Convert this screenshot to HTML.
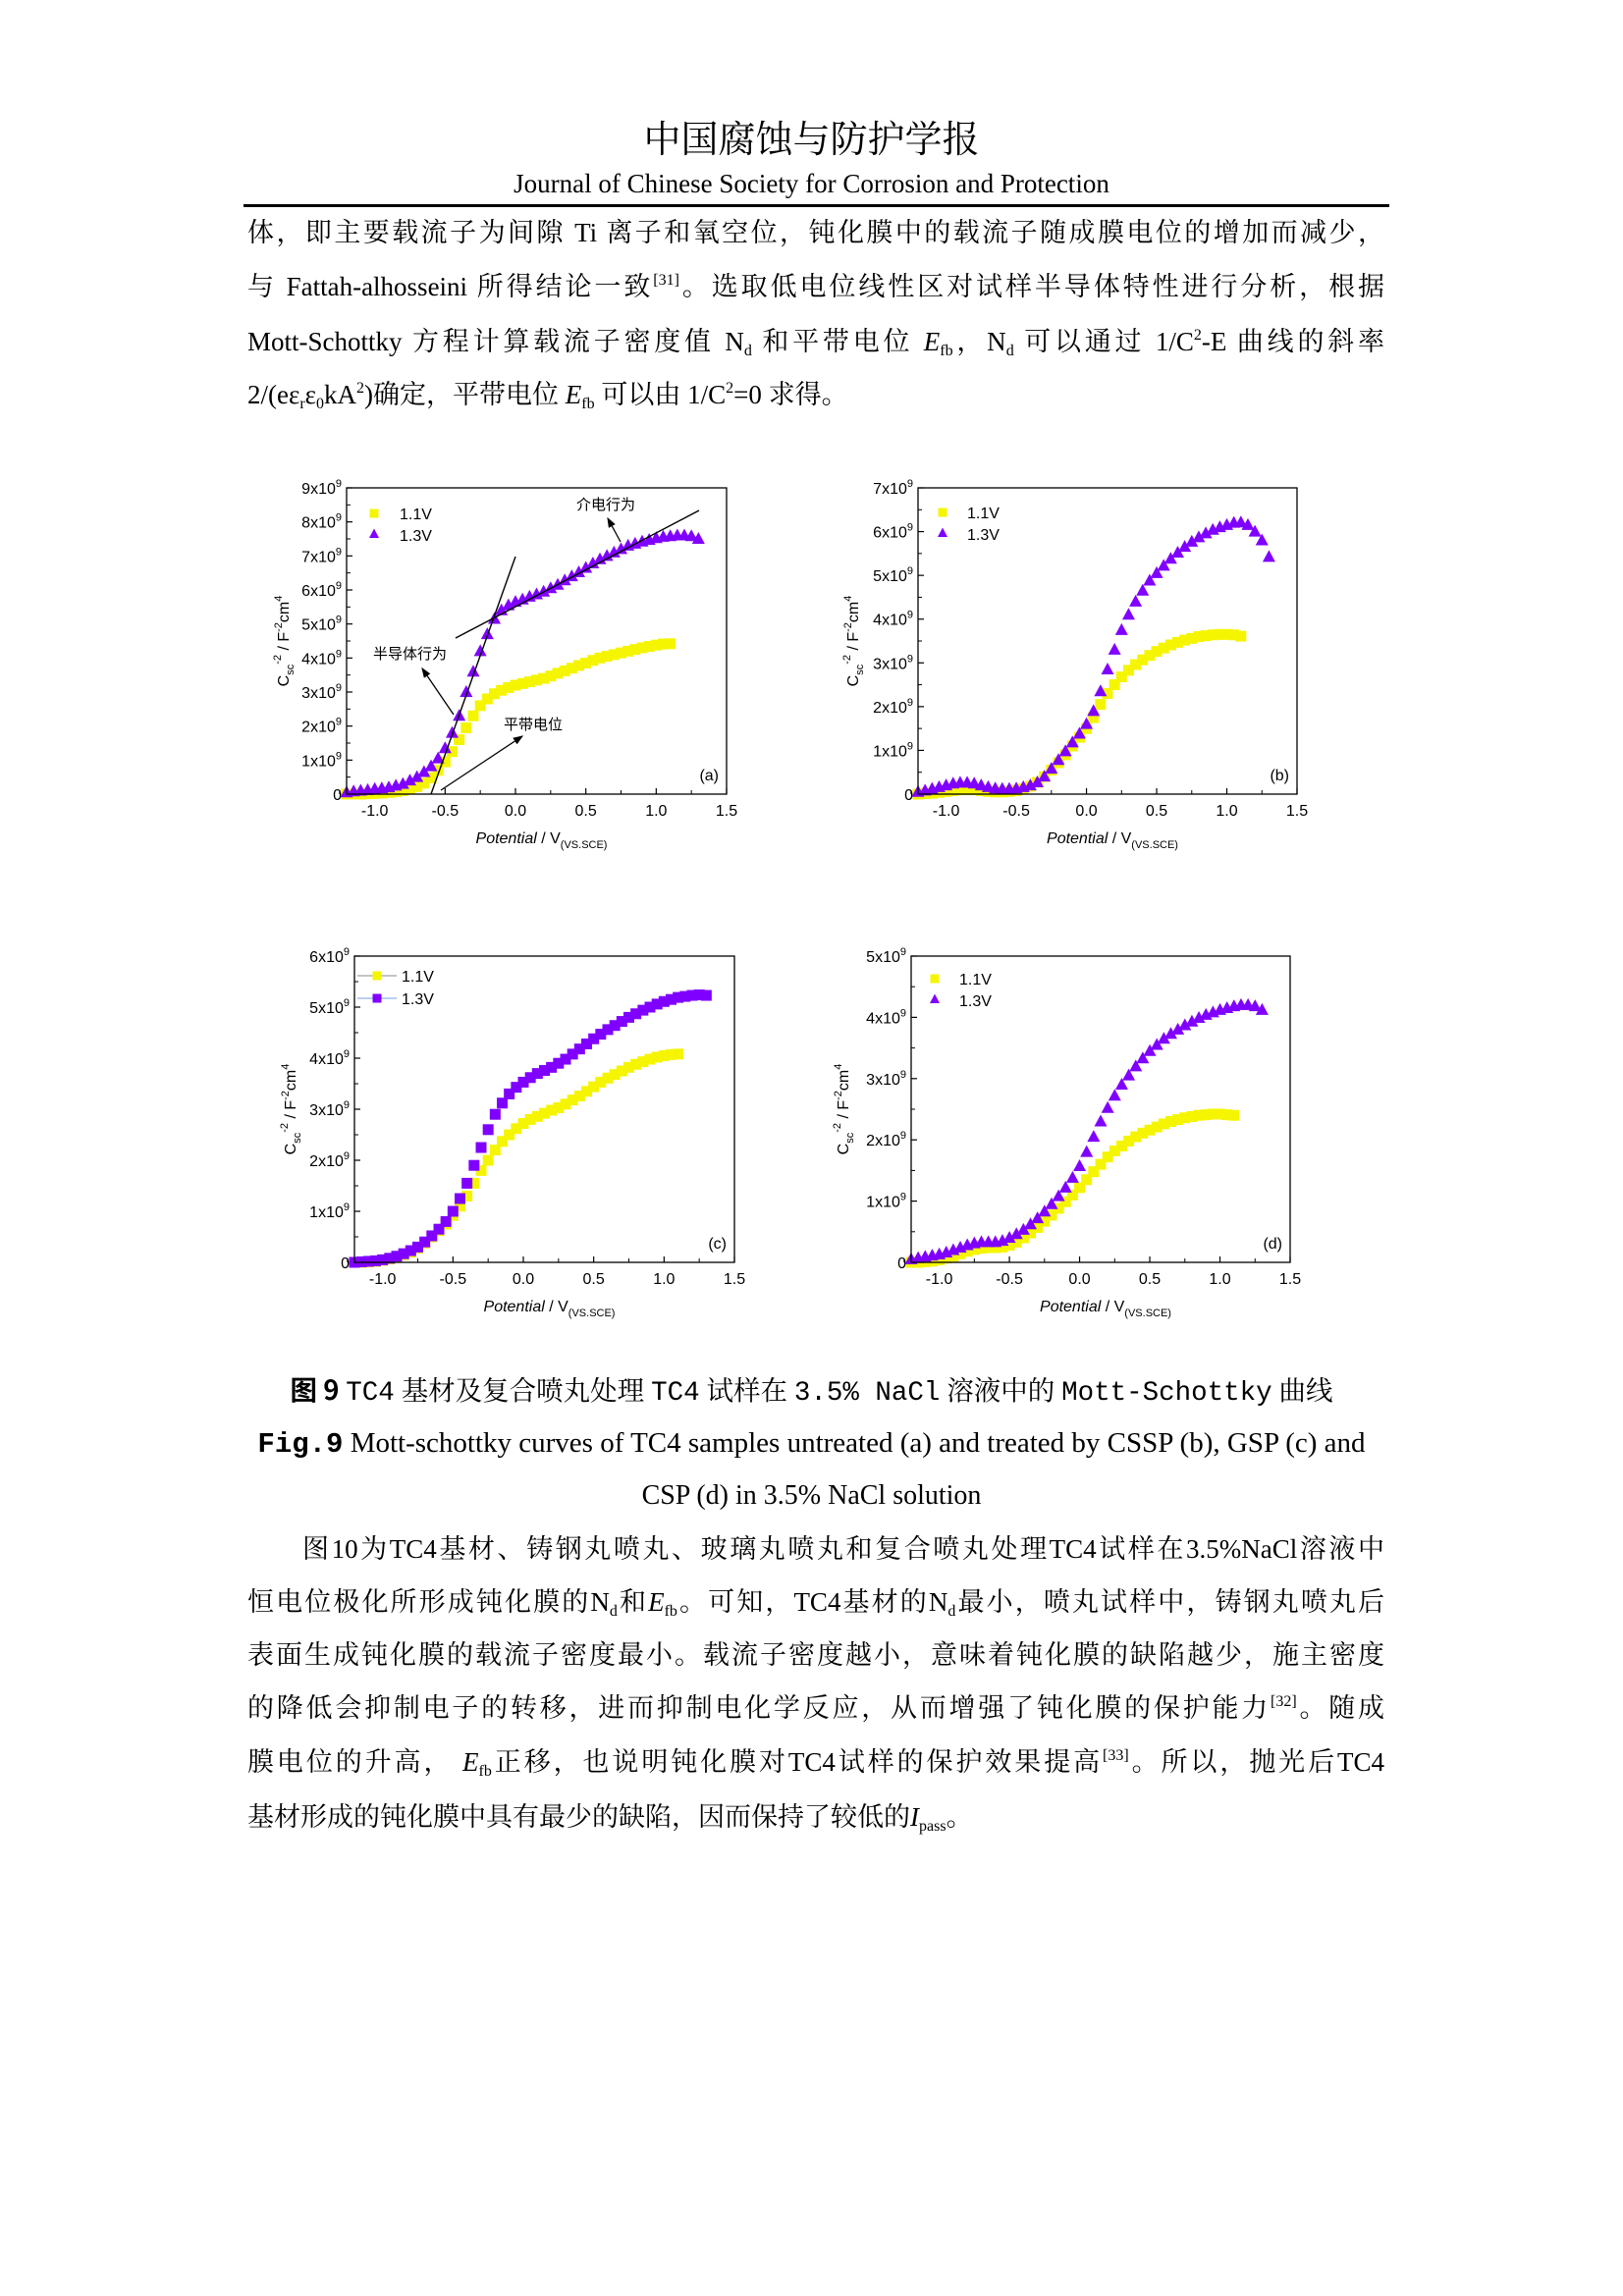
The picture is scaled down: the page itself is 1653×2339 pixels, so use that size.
<!DOCTYPE html>
<html><head><meta charset="utf-8">
<style>
html,body{margin:0;padding:0;background:#fff;}
body{width:1653px;height:2339px;position:relative;overflow:hidden;font-family:"Liberation Serif","Noto Serif CJK SC",serif;color:#000;}
.ln{position:absolute;left:252px;width:1158px;font-size:27px;line-height:36px;white-space:nowrap;text-align:justify;text-align-last:justify;}
.ln.l{text-align-last:left;}
.c{position:absolute;left:0;width:1653px;text-align:center;white-space:nowrap;}
sup{font-size:16px;vertical-align:11px;line-height:0;}
sub{font-size:16px;vertical-align:-5px;line-height:0;}
.mono{font-family:"Liberation Mono","Noto Serif CJK SC",monospace;}
svg text{font-family:"Liberation Sans","Noto Sans CJK SC",sans-serif;}
</style></head>
<body>
<div class="c" style="top:118px;font-size:38px;line-height:50px;">中国腐蚀与防护学报</div>
<div class="c" style="top:170px;font-size:27px;line-height:34px;">Journal of Chinese Society for Corrosion and Protection</div>
<div style="position:absolute;left:248px;top:208px;width:1167px;height:3px;background:#000;"></div>

<div class="ln" style="top:219px;">体，即主要载流子为间隙 Ti 离子和氧空位，钝化膜中的载流子随成膜电位的增加而减少，</div>
<div class="ln" style="top:274px;">与 Fattah-alhosseini 所得结论一致<sup>[31]</sup>。选取低电位线性区对试样半导体特性进行分析，根据</div>
<div class="ln" style="top:330px;">Mott-Schottky 方程计算载流子密度值 N<sub>d</sub> 和平带电位 <i>E</i><sub>fb</sub>，N<sub>d</sub> 可以通过 1/C<sup>2</sup>-E 曲线的斜率</div>
<div class="ln l" style="top:384px;">2/(eε<sub>r</sub>ε<sub>0</sub>kA<sup>2</sup>)确定，平带电位 <i>E</i><sub>fb</sub> 可以由 1/C<sup>2</sup>=0 求得。</div>

<svg id="charts" style="position:absolute;left:0;top:0;" width="1653" height="1400"></svg>

<div class="c" style="top:1396px;font-size:27.5px;line-height:36px;"><b style="font-family:'Noto Sans CJK SC',sans-serif;">图 9</b> <span class="mono">TC4</span> 基材及复合喷丸处理 <span class="mono">TC4</span> 试样在 <span class="mono">3.5% NaCl</span> 溶液中的 <span class="mono">Mott-Schottky</span> 曲线</div>
<div class="c" style="top:1452px;font-size:29px;line-height:36px;"><b class="mono">Fig.9</b> Mott-schottky curves of TC4 samples untreated (a) and treated by CSSP (b), GSP (c) and</div>
<div class="c" style="top:1506px;font-size:28px;line-height:36px;">CSP (d) in 3.5% NaCl solution</div>

<div class="ln" style="top:1560px;padding-left:56px;width:1102px;">图10为TC4基材、铸钢丸喷丸、玻璃丸喷丸和复合喷丸处理TC4试样在3.5%NaCl溶液中</div>
<div class="ln" style="top:1614px;">恒电位极化所形成钝化膜的N<sub>d</sub>和<i>E</i><sub>fb</sub>。可知，TC4基材的N<sub>d</sub>最小，喷丸试样中，铸钢丸喷丸后</div>
<div class="ln" style="top:1668px;">表面生成钝化膜的载流子密度最小。载流子密度越小，意味着钝化膜的缺陷越少，施主密度</div>
<div class="ln" style="top:1722px;">的降低会抑制电子的转移，进而抑制电化学反应，从而增强了钝化膜的保护能力<sup>[32]</sup>。随成</div>
<div class="ln" style="top:1777px;">膜电位的升高， <i>E</i><sub>fb</sub>正移，也说明钝化膜对TC4试样的保护效果提高<sup>[33]</sup>。所以，抛光后TC4</div>
<div class="ln l" style="top:1833px;">基材形成的钝化膜中具有最少的缺陷，因而保持了较低的<i>I</i><sub>pass</sub>。</div>

<script>
const potentials = [-1.2,-1.15,-1.1,-1.05,-1.0,-0.95,-0.9,-0.85,-0.8,-0.75,-0.7,-0.65,-0.6,-0.55,-0.5,-0.45,-0.4,-0.35,-0.3,-0.25,-0.2,-0.15,-0.1,-0.05,0,0.05,0.1,0.15,0.2,0.25,0.3,0.35,0.4,0.45,0.5,0.55,0.6,0.65,0.7,0.75,0.8,0.85,0.9,0.95,1.0,1.05,1.1,1.15,1.2,1.25,1.3];
const xTicks = [-1.0,-0.5,0.0,0.5,1.0,1.5];
const xTickLabels = ["-1.0","-0.5","0.0","0.5","1.0","1.5"];
const seriesNames = ["1.1V","1.3V"];
// values in 1e9 F^-2 cm^4
const aYellow = [0,0,0,0.01,0.02,0.03,0.05,0.07,0.1,0.15,0.22,0.32,0.48,0.7,0.95,1.25,1.6,1.95,2.3,2.6,2.8,2.95,3.05,3.13,3.2,3.25,3.3,3.35,3.4,3.47,3.55,3.62,3.7,3.78,3.85,3.93,4.0,4.05,4.1,4.15,4.2,4.25,4.3,4.34,4.38,4.41,4.42];
const aPurple = [0.05,0.08,0.1,0.12,0.15,0.17,0.2,0.25,0.3,0.4,0.5,0.65,0.82,1.05,1.35,1.8,2.3,3.0,3.6,4.2,4.7,5.15,5.4,5.55,5.65,5.72,5.8,5.87,5.95,6.05,6.15,6.28,6.4,6.52,6.65,6.78,6.9,7.0,7.1,7.2,7.3,7.36,7.42,7.47,7.52,7.56,7.58,7.6,7.6,7.58,7.5];
const bYellow = [0,0.01,0.02,0.04,0.06,0.08,0.1,0.1,0.1,0.08,0.06,0.05,0.05,0.06,0.08,0.12,0.18,0.27,0.4,0.55,0.72,0.9,1.1,1.3,1.5,1.75,2.05,2.3,2.5,2.68,2.83,2.96,3.07,3.17,3.26,3.34,3.41,3.47,3.52,3.56,3.6,3.62,3.64,3.65,3.65,3.64,3.61];
const bPurple = [0.05,0.08,0.12,0.16,0.2,0.24,0.26,0.26,0.24,0.2,0.16,0.13,0.12,0.12,0.13,0.16,0.2,0.27,0.4,0.58,0.78,0.98,1.18,1.38,1.6,1.9,2.35,2.85,3.3,3.75,4.1,4.4,4.65,4.88,5.05,5.22,5.38,5.52,5.65,5.77,5.87,5.96,6.04,6.1,6.15,6.2,6.21,6.15,6.0,5.8,5.42];
const cYellow = [0,0,0.01,0.02,0.04,0.07,0.1,0.15,0.2,0.28,0.38,0.5,0.62,0.75,0.92,1.1,1.3,1.55,1.8,2.0,2.2,2.37,2.5,2.62,2.72,2.8,2.86,2.92,2.98,3.03,3.1,3.18,3.26,3.35,3.44,3.53,3.61,3.68,3.75,3.82,3.88,3.93,3.98,4.02,4.05,4.07,4.08];
const cPurple = [0,0.01,0.02,0.03,0.05,0.08,0.12,0.17,0.23,0.3,0.4,0.52,0.65,0.8,1.0,1.25,1.55,1.9,2.25,2.6,2.9,3.12,3.3,3.43,3.53,3.62,3.7,3.76,3.82,3.9,3.98,4.08,4.18,4.28,4.38,4.47,4.56,4.64,4.72,4.8,4.87,4.94,5.0,5.06,5.11,5.15,5.19,5.21,5.23,5.24,5.23];
const dYellow = [0,0,0.01,0.02,0.04,0.07,0.1,0.14,0.18,0.21,0.23,0.24,0.24,0.25,0.28,0.33,0.4,0.48,0.57,0.67,0.77,0.88,0.99,1.1,1.22,1.35,1.48,1.6,1.72,1.82,1.9,1.98,2.05,2.11,2.16,2.21,2.26,2.3,2.33,2.36,2.38,2.4,2.41,2.42,2.42,2.41,2.4];
const dPurple = [0.05,0.07,0.09,0.11,0.13,0.16,0.2,0.24,0.28,0.31,0.33,0.33,0.33,0.35,0.4,0.46,0.53,0.62,0.72,0.83,0.95,1.08,1.22,1.38,1.57,1.8,2.05,2.3,2.52,2.72,2.9,3.05,3.2,3.33,3.45,3.55,3.65,3.73,3.8,3.87,3.93,3.99,4.04,4.08,4.12,4.15,4.18,4.2,4.2,4.18,4.12];

const NS = 'http://www.w3.org/2000/svg';
const svg = document.getElementById('charts');
const YEL = '#f5f500', PUR = '#8000ff';
function mk(tag, attrs, parent){ const e=document.createElementNS(NS,tag); for(const k in attrs) e.setAttribute(k,attrs[k]); (parent||svg).appendChild(e); return e; }

function chart(cfg){
  const g = mk('g',{});
  
  
  const L=cfg.l,R=cfg.r,T=cfg.t,B=cfg.b;
  const X = v => L + (v - (-1.2)) / (1.5 - (-1.2)) * (R - L);
  const Y = v => B - v / cfg.ymax * (B - T);
  for (let i=0;i<xTicks.length;i++){
    const x = X(xTicks[i]);
    mk('line',{x1:x,y1:B,x2:x,y2:B-6,stroke:'#000','stroke-width':1.2},g);
    const xm = X(xTicks[i]-0.25);
    mk('line',{x1:xm,y1:B,x2:xm,y2:B-4,stroke:'#000','stroke-width':1},g);
    const t = mk('text',{x:x,y:B+22,'font-size':16,'text-anchor':'middle'},g);
    t.textContent = xTickLabels[i];
    
    
  }
  for (let k=0;k<=cfg.ymax;k++){
    const y = Y(k);
    mk('line',{x1:L,y1:y,x2:L+6,y2:y,stroke:'#000','stroke-width':1.2},g);
    if (k<cfg.ymax){ const ym=Y(k+0.5); mk('line',{x1:L,y1:ym,x2:L+4,y2:ym,stroke:'#000','stroke-width':1},g); }
    const t = mk('text',{x:L-5,y:y+6,'font-size':16,'text-anchor':'end'},g);
    
    
    if (k===0) t.textContent='0';
    else { t.textContent = k + 'x10'; const s = mk('tspan',{dy:-7,'font-size':11},t); s.textContent='9'; }
  }
  const series = [[cfg.yel, YEL, 'square'], [cfg.pur, PUR, cfg.purShape]];
  series.forEach((s, si) => {
    const sg = mk('g',{},g);
    
    
    s[0].forEach((v, i) => {
      const x = X(potentials[i]), y = Y(v);
      if (s[2]==='square') mk('rect',{x:x-5.5,y:y-5.5,width:11,height:11,fill:s[1]},sg);
      else mk('polygon',{points:(x)+','+(y-7)+' '+(x-6.5)+','+(y+5)+' '+(x+6.5)+','+(y+5),fill:s[1]},sg);
    });
  });
  mk('rect',{x:L,y:T,width:R-L,height:B-T,fill:'none',stroke:'#000','stroke-width':1.3},g);
  const lx = cfg.legX, ly = cfg.legY;
  if (cfg.legLines){
    mk('line',{x1:lx-20,y1:ly,x2:lx+20,y2:ly,stroke:'#888','stroke-width':1},g);
    mk('line',{x1:lx-20,y1:ly+23,x2:lx+20,y2:ly+23,stroke:'#6fa0e0','stroke-width':1},g);
  }
  mk('rect',{x:lx-4.5,y:ly-4.5,width:9,height:9,fill:YEL},g);
  if (cfg.purShape==='square') mk('rect',{x:lx-4.5,y:ly+23-4.5,width:9,height:9,fill:PUR},g);
  else mk('polygon',{points:lx+','+(ly+21-5.5)+' '+(lx-5)+','+(ly+21+4)+' '+(lx+5)+','+(ly+21+4),fill:PUR},g);
  const l1 = mk('text',{x:cfg.legTX,y:ly+6,'font-size':16},g); l1.textContent=seriesNames[0];
   
  const l2 = mk('text',{x:cfg.legTX,y:ly+(cfg.purShape==='square'?29:28),'font-size':16},g); l2.textContent=seriesNames[1];
   
  const pl = mk('text',{x:R-8,y:B-14,'font-size':16,'text-anchor':'end'},g); pl.textContent='('+cfg.id+')';
   
  const xt = mk('text',{x:(L+R)/2+5,y:B+50,'font-size':16,'text-anchor':'middle'},g);
   
  const a1 = mk('tspan',{'font-style':'italic'},xt); a1.textContent='Potential';
  const a2 = mk('tspan',{},xt); a2.textContent=' / V';
  const a3 = mk('tspan',{dy:5,'font-size':11},xt); a3.textContent='(VS.SCE)';
  const cx = cfg.ytX, cy = (T+B)/2;
  const yt = mk('text',{x:cx,y:cy,'font-size':16,'text-anchor':'middle',transform:'rotate(-90 '+cx+' '+cy+')'},g);
   
  const b1 = mk('tspan',{},yt); b1.textContent='C';
  const b2 = mk('tspan',{dy:5,'font-size':11},yt); b2.textContent='sc';
  const b3 = mk('tspan',{dy:-13,'font-size':11},yt); b3.textContent='-2';
  const b4 = mk('tspan',{dy:8},yt); b4.textContent=' / F';
  const b5 = mk('tspan',{dy:-7,'font-size':11},yt); b5.textContent='-2';
  const b6 = mk('tspan',{dy:7},yt); b6.textContent='cm';
  const b7 = mk('tspan',{dy:-7,'font-size':11},yt); b7.textContent='4';
  return g;
}

chart({id:'a',l:353,r:740,t:497,b:809,ymax:9,yel:aYellow,pur:aPurple,purShape:'tri',legX:381,legY:523,legTX:407,ytX:294});
chart({id:'b',l:935,r:1321,t:497,b:809,ymax:7,yel:bYellow,pur:bPurple,purShape:'tri',legX:960,legY:522,legTX:985,ytX:874});
chart({id:'c',l:361,r:748,t:974,b:1286,ymax:6,yel:cYellow,pur:cPurple,purShape:'square',legX:384,legY:994,legTX:409,legLines:true,ytX:301});
chart({id:'d',l:928,r:1314,t:974,b:1286,ymax:5,yel:dYellow,pur:dPurple,purShape:'tri',legX:952,legY:997,legTX:977,ytX:864});

const ann = mk('g',{});


mk('defs',{},ann).innerHTML = '<marker id="ah" markerWidth="8" markerHeight="8" refX="7" refY="4" orient="auto"><path d="M0,1 L8,4 L0,7 z" fill="#000"/></marker>';
mk('line',{x1:439,y1:809,x2:525,y2:567,stroke:'#000','stroke-width':1.4},ann);
mk('line',{x1:464,y1:650,x2:712,y2:520,stroke:'#000','stroke-width':1.4},ann);
mk('line',{x1:462,y1:728,x2:430,y2:681,stroke:'#000','stroke-width':1.3,'marker-end':'url(#ah)'},ann);
mk('line',{x1:449,y1:805,x2:532,y2:750,stroke:'#000','stroke-width':1.3,'marker-end':'url(#ah)'},ann);
mk('line',{x1:632,y1:552,x2:619,y2:528,stroke:'#000','stroke-width':1.3,'marker-end':'url(#ah)'},ann);
const t1 = mk('text',{x:380,y:671,'font-size':15},ann); t1.textContent='半导体行为';
 
const t2 = mk('text',{x:513,y:743,'font-size':15},ann); t2.textContent='平带电位';
 
const t3 = mk('text',{x:587,y:519,'font-size':15},ann); t3.textContent='介电行为';
 
</script>
</body></html>
